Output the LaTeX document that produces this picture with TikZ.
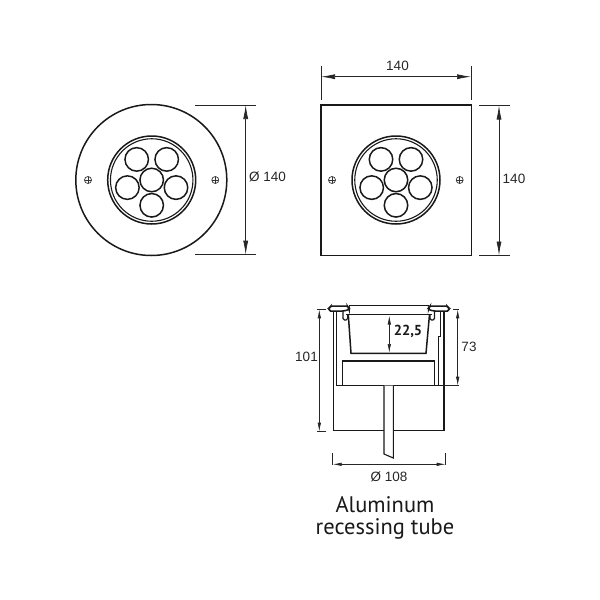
\documentclass[tikz,border=0pt]{standalone}
\usepackage{fontspec}
\setmainfont{Liberation Sans}
\newfontfamily\captionfont{PT Sans}
\usetikzlibrary{arrows.meta}
\tikzset{
  outline/.style={draw=black!90, line width=1.5pt},
  thin outline/.style={draw=black!90, line width=1.1pt},
  dim line/.style={draw=black!85, line width=.7pt},
  dim arrow/.style={draw=black!85, line width=.7pt, {Latex[length=14pt,width=5pt]}-{Latex[length=14pt,width=5pt]}},
  small arrow/.style={draw=black!85, line width=.7pt, {Latex[length=9pt,width=3.5pt]}-{Latex[length=9pt,width=3.5pt]}},
  led/.style={circle, draw=black!90, line width=1.5pt, minimum size=23.5pt, inner sep=0pt},
  screw/.style={circle, draw=black!80, line width=.7pt, minimum size=7pt, inner sep=0pt, path picture={
    \draw[black!80, line width=.7pt] (path picture bounding box.north) -- (path picture bounding box.south);
    \draw[black!80, line width=.7pt] (path picture bounding box.west) -- (path picture bounding box.east);}},
  dim label/.style={font=\fontsize{13.5}{16}\selectfont, text=black!85, inner sep=0pt},
  section label/.style={font=\captionfont\bfseries\fontsize{14.5}{16}\selectfont, text=black!90, inner sep=0pt},
  caption label/.style={font=\captionfont\fontsize{22.5}{22}\selectfont, text=black!90, align=center, inner sep=0pt},
}
\begin{document}
\begin{tikzpicture}[x=1pt, y=-1pt]
        \useasboundingbox (0,0) rectangle (600,600);

        % round cover
        \node[circle, outline, minimum size=151pt, inner sep=0pt] (round) at (151.3,180) {};
        \node[circle, outline, minimum size=88pt, inner sep=0pt] (round ring a) at (151.7,180) {};
        \node[circle, thin outline, minimum size=82.5pt, inner sep=0pt] (round ring b) at (151.7,180) {};
        \node[led] (r1) at (136.7,159.4) {};
        \node[led] (r2) at (166.7,159.4) {};
        \node[led] (r3) at (127.4,187.6) {};
        \node[led] (r4) at (151.7,180.0) {};
        \node[led] (r5) at (176.0,187.6) {};
        \node[led] (r6) at (151.7,205.3) {};
        \node[screw] (r screw left)  at (88,180) {};
        \node[screw] (r screw right) at (215.3,180) {};

        \coordinate (rd top a) at (195,105);
        \coordinate (rd top b) at (256,105);
        \coordinate (rd bot a) at (195,254.7);
        \coordinate (rd bot b) at (256,254.7);
        \coordinate (rd top)   at (245.7,105);
        \coordinate (rd bot)   at (245.7,254.7);
        \draw[dim line] (rd top a) -- (rd top b);
        \draw[dim line] (rd bot a) -- (rd bot b);
        \draw[dim arrow] (rd top) -- (rd bot);
        \node[dim label] (rd label) at (267.5,177) {Ø 140};

        % square cover
        \node[rectangle, outline, minimum size=150.5pt, inner sep=0pt] (square) at (396,180.3) {};
        \node[circle, outline, minimum size=88pt, inner sep=0pt] (square ring a) at (396,180) {};
        \node[circle, thin outline, minimum size=82.5pt, inner sep=0pt] (square ring b) at (396,180) {};
        \node[led] (s1) at (381.0,159.4) {};
        \node[led] (s2) at (411.0,159.4) {};
        \node[led] (s3) at (371.7,187.6) {};
        \node[led] (s4) at (396.0,180.0) {};
        \node[led] (s5) at (420.3,187.6) {};
        \node[led] (s6) at (396.0,205.3) {};
        \node[screw] (s screw left)  at (332,180) {};
        \node[screw] (s screw right) at (459.7,180) {};

        \coordinate (sw left a)  at (321,66);
        \coordinate (sw left b)  at (321,100);
        \coordinate (sw right a) at (471,66);
        \coordinate (sw right b) at (471,100);
        \coordinate (sw left)    at (321,76.7);
        \coordinate (sw right)   at (471,76.7);
        \draw[dim line] (sw left a) -- (sw left b);
        \draw[dim line] (sw right a) -- (sw right b);
        \draw[dim arrow] (sw left) -- (sw right);
        \node[dim label] (sw label) at (397.5,66) {140};

        \coordinate (sh top a) at (479,105.5);
        \coordinate (sh top b) at (510,105.5);
        \coordinate (sh bot a) at (479,255.5);
        \coordinate (sh bot b) at (510,255.5);
        \coordinate (sh top)   at (499,105.5);
        \coordinate (sh bot)   at (499,255.5);
        \draw[dim line] (sh top a) -- (sh top b);
        \draw[dim line] (sh bot a) -- (sh bot b);
        \draw[dim arrow] (sh top) -- (sh bot);
        \node[dim label] (sh label) at (514,179) {140};

        % recessing tube section
        \draw[outline] (333.3,311) -- (333.3,430.3) -- (444.2,430.3) -- (444.2,311);
        \draw[outline] (336.7,311) -- (336.7,385.7) -- (444.2,385.7);
        \draw[thin outline] (438.3,385.7) -- (438.3,336.7) -- (440.5,336.7) -- (440.5,311);
        \draw[thin outline] (342.3,385.7) -- (342.3,361) -- (434.5,361) -- (434.5,385.7);
        \draw[thin outline] (349,305.7) -- (428.5,305.7);
        \draw[outline, fill=white, rounded corners=1.5pt] (329,311) -- (329,308) -- (331,306) -- (347.5,306) -- (349,308) -- (349,309.5) -- (344,311) -- cycle;
        \draw[outline, fill=white, rounded corners=1.5pt] (449,311) -- (449,308) -- (447,306) -- (430,306) -- (428.5,308) -- (428.5,309.5) -- (433.5,311) -- cycle;
        \draw[thin outline, rounded corners=1.5pt] (343,311) -- (343,320) -- (347.7,320) -- (347.7,314.5);
        \draw[thin outline, rounded corners=1.5pt] (434.5,311) -- (434.5,320) -- (430,320) -- (430,314.5);
        \draw[outline] (346,314.5) -- (432,314.5);
        \draw[outline] (348.3,314.5) -- (351,353.3) -- (426,353.3) -- (429.5,314.5);
        \draw[thin outline, fill=white] (384,385.7) -- (384,454) -- (393.3,458) -- (393.3,385.7);

        \coordinate (cup top) at (389.3,315.5);
        \coordinate (cup bot) at (389.3,353);
        \draw[small arrow] (cup top) -- (cup bot);
        \node[section label] (cup label) at (408,331) {22,5};

        \coordinate (tall top a) at (317,309.3);
        \coordinate (tall top b) at (326,309.3);
        \coordinate (tall bot a) at (317,431.7);
        \coordinate (tall bot b) at (326,431.7);
        \coordinate (tall top)   at (319.3,309.3);
        \coordinate (tall bot)   at (319.3,431.7);
        \draw[dim line] (tall top a) -- (tall top b);
        \draw[dim line] (tall bot a) -- (tall bot b);
        \draw[small arrow] (tall top) -- (tall bot);
        \node[dim label] (tall label) at (306.5,357) {101};

        \coordinate (depth top a) at (453,309.3);
        \coordinate (depth top b) at (459,309.3);
        \coordinate (depth bot a) at (444.2,385.7);
        \coordinate (depth bot b) at (459,385.7);
        \coordinate (depth top)   at (457.7,309.3);
        \coordinate (depth bot)   at (457.7,385.7);
        \draw[dim line] (depth top a) -- (depth top b);
        \draw[dim line] (depth bot a) -- (depth bot b);
        \draw[small arrow] (depth top) -- (depth bot);
        \node[dim label] (depth label) at (469,347) {73};

        \coordinate (dia left a)  at (332.7,453);
        \coordinate (dia left b)  at (332.7,465);
        \coordinate (dia right a) at (445.7,453);
        \coordinate (dia right b) at (445.7,465);
        \coordinate (dia left)    at (332.7,464.3);
        \coordinate (dia right)   at (445.7,464.3);
        \draw[dim line] (dia left a) -- (dia left b);
        \draw[dim line] (dia right a) -- (dia right b);
        \draw[small arrow] (dia left) -- (dia right);
        \node[dim label] (dia label) at (389,476.5) {Ø 108};

        \node[caption label] (caption) at (385,518) {Aluminum\\recessing tube};
      \end{tikzpicture}
\end{document}
